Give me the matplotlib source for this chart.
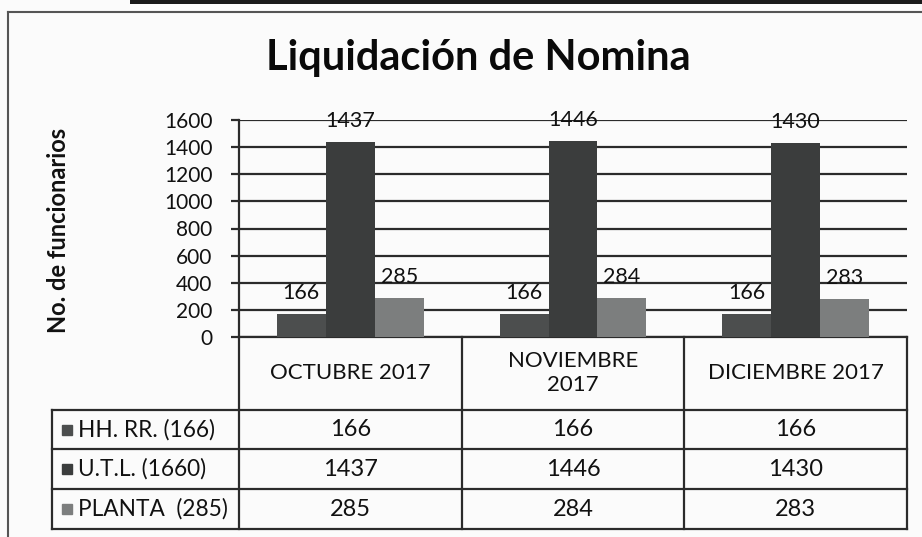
import matplotlib
matplotlib.use("Agg")
import matplotlib.pyplot as plt
from matplotlib.lines import Line2D
import numpy as np

plt.rcParams['font.family'] = ['Lato', 'DejaVu Sans']

title = "Liquidación de Nomina"
ylabel = "No. de funcionarios"
categories = ["OCTUBRE 2017", "NOVIEMBRE\n2017", "DICIEMBRE 2017"]
series_names = ["HH. RR. (166)", "U.T.L. (1660)", "PLANTA  (285)"]
hh_rr = [166, 166, 166]
utl = [1437, 1446, 1430]
planta = [285, 284, 283]
series_values = [hh_rr, utl, planta]
series_colors = ["#4c4e4e", "#3b3d3d", "#7c7e7e"]
yticks = [0, 200, 400, 600, 800, 1000, 1200, 1400, 1600]

W, H = 922, 537
fig = plt.figure(figsize=(W / 100, H / 100), dpi=100)
fig.patch.set_facecolor("#fbfbfb")

ax_l, ax_r, ax_top, ax_bot = 239, 907, 120, 337
ax = fig.add_axes([ax_l / W, 1 - ax_bot / H, (ax_r - ax_l) / W, (ax_bot - ax_top) / H])
ax.set_facecolor("none")

line_c = "#2b2b2b"
txt_c = "#111111"

x = np.arange(len(categories))
bw = 0.22
for k, (vals, col) in enumerate(zip(series_values, series_colors)):
    xs = x + (k - 1) * bw
    ax.bar(xs, vals, width=bw, color=col, zorder=3)
    for xi, v in zip(xs, vals):
        ax.annotate(str(v), (xi, v), xytext=(0, 8), textcoords="offset points",
                    ha="center", va="bottom", fontsize=15.5, color=txt_c, zorder=4)

ax.set_xlim(-0.5, len(categories) - 0.5)
ax.set_ylim(0, 1600)
ax.set_yticks(yticks)
ax.set_yticklabels([str(t) for t in yticks], fontsize=15, color=txt_c)
ax.set_xticks([])
ax.yaxis.grid(True, color=line_c, lw=1.6, zorder=1)
ax.tick_params(axis="y", length=6, width=1.6, color=line_c, pad=13)
for s in ["top", "right"]:
    ax.spines[s].set_visible(False)
for s in ["left", "bottom"]:
    ax.spines[s].set_color(line_c)
    ax.spines[s].set_linewidth(1.6)

fig.text(478 / W, 1 - 58 / H, title, ha="center", va="center", fontsize=30,
         fontweight="bold", color="#0a0a0a")
fig.text(58 / W, 1 - 230 / H, ylabel, ha="center", va="center", rotation=90,
         fontsize=17, fontweight="bold", color=txt_c)

# data table under the chart
tr = ax.get_xaxis_transform()
axh = ax_bot - ax_top
def ay(py):
    return (ax_bot - py) / axh
px_per_unit = (ax_r - ax_l) / len(categories)
def dx(px):
    return -0.5 + (px - ax_l) / px_per_unit

row_lines = [410, 449, 489, 529]
left_px = 52
for py in row_lines:
    ax.add_line(Line2D([dx(left_px), len(categories) - 0.5], [ay(py)] * 2, transform=tr,
                       color=line_c, lw=1.6, clip_on=False))
ax.add_line(Line2D([dx(left_px)] * 2, [ay(row_lines[0]), ay(row_lines[-1])], transform=tr,
                   color=line_c, lw=1.6, clip_on=False))
for b in np.arange(len(categories) + 1) - 0.5:
    ax.add_line(Line2D([b, b], [0, ay(row_lines[-1])], transform=tr,
                       color=line_c, lw=1.6, clip_on=False))

for i, c in enumerate(categories):
    ax.text(i, ay(373), c, transform=tr, ha="center", va="center", fontsize=16,
            color=txt_c, linespacing=1.3, clip_on=False)

for r, (name, vals, col) in enumerate(zip(series_names, series_values, series_colors)):
    yc = ay((row_lines[r] + row_lines[r + 1]) / 2)
    ax.plot([dx(67)], [yc], marker="s", markersize=7, color=col, transform=tr, clip_on=False)
    ax.text(dx(78), yc, name, transform=tr, ha="left", va="center", fontsize=16.3,
            color=txt_c, clip_on=False)
    for i, v in enumerate(vals):
        ax.text(i, yc, str(v), transform=tr, ha="center", va="center", fontsize=17,
                color=txt_c, clip_on=False)

# page frame and dark top strip
fig.add_artist(Line2D([8 / W, 8 / W], [0, 1 - 12 / H], transform=fig.transFigure,
                      color="#555555", lw=1.5))
fig.add_artist(Line2D([8 / W, 1], [1 - 12 / H, 1 - 12 / H], transform=fig.transFigure,
                      color="#555555", lw=1.5))
fig.add_artist(plt.Rectangle((130 / W, 1 - 4 / H), 1, 4 / H, transform=fig.transFigure,
                             color="#1a1a1a", lw=0))

fig.savefig("out.png", dpi=100, facecolor=fig.get_facecolor())
